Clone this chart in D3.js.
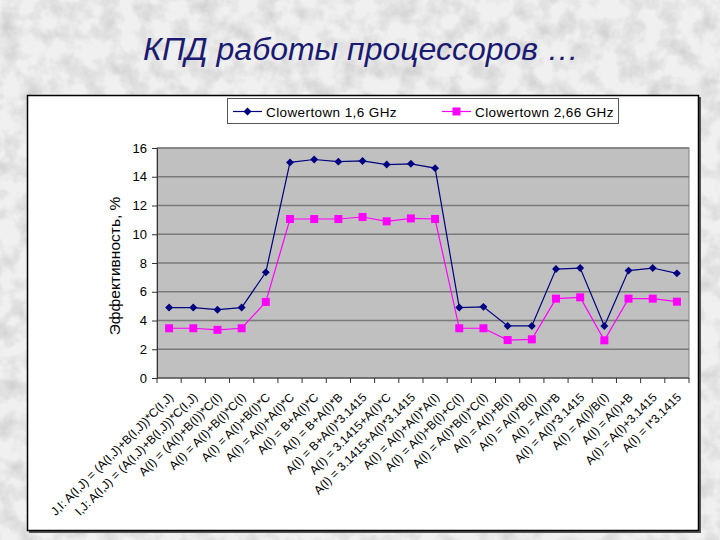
<!DOCTYPE html>
<html>
<head>
<meta charset="utf-8">
<script src="https://cdn.jsdelivr.net/npm/d3@7"></script>
<style>
  html, body { margin: 0; padding: 0; background: #e4e4e4; }
  svg { display: block; }
</style>
</head>
<body>
<svg id="chart" width="720" height="540"></svg>
<script>
const titleText = "КПД работы процессоров …";
const yTitle = "Эффективность, %";
const categories = [
  "J,I: A(I,J) = (A(I,J)+B(I,J))*C(I,J)",
  "I,J: A(I,J) = (A(I,J)+B(I,J))*C(I,J)",
  "A(I) = (A(I)+B(I))*C(I)",
  "A(I) = A(I)+B(I)*C(I)",
  "A(I) = A(I)+B(I)*C",
  "A(I) = A(I)+A(I)*C",
  "A(I) = B+A(I)*C",
  "A(I) = B+A(I)*B",
  "A(I) = B+A(I)*3.1415",
  "A(I) = 3.1415+A(I)*C",
  "A(I) = 3.1415+A(I)*3.1415",
  "A(I) = A(I)+A(I)*A(I)",
  "A(I) = A(I)+B(I)+C(I)",
  "A(I) = A(I)*B(I)*C(I)",
  "A(I) = A(I)+B(I)",
  "A(I) = A(I)*B(I)",
  "A(I) = A(I)*B",
  "A(I) = A(I)*3.1415",
  "A(I) = A(I)/B(I)",
  "A(I) = A(I)+B",
  "A(I) = A(I)+3.1415",
  "A(I) = I*3.1415"
];
const seriesNames = ["Clowertown 1,6 GHz", "Clowertown 2,66 GHz"];
const clower16 = [4.9, 4.9, 4.75, 4.9, 7.35, 15.0, 15.2, 15.05, 15.1, 14.85, 14.9, 14.6, 4.9, 4.95, 3.62, 3.62, 7.58, 7.65, 3.62, 7.47, 7.65, 7.28];
const clower266 = [3.46, 3.46, 3.35, 3.46, 5.29, 11.06, 11.06, 11.06, 11.2, 10.9, 11.1, 11.06, 3.46, 3.46, 2.64, 2.69, 5.52, 5.61, 2.62, 5.52, 5.52, 5.31];
const yTicks = [0, 2, 4, 6, 8, 10, 12, 14, 16];

const svg = d3.select("#chart");
const W = 720, H = 540;

// textured background
const defs = svg.append("defs");
const f = defs.append("filter").attr("id", "marble").attr("x", 0).attr("y", 0).attr("width", "100%").attr("height", "100%");
f.append("feTurbulence").attr("type", "fractalNoise").attr("baseFrequency", "0.05").attr("numOctaves", 4).attr("seed", 11).attr("result", "n");
f.append("feColorMatrix").attr("in", "n").attr("type", "matrix")
  .attr("values", "0 0 0 0 0  0 0 0 0 0  0 0 0 0 0  0 0 0 -1.3 0.8");
svg.append("rect").attr("width", W).attr("height", H).attr("fill", "#f0f0f0");
svg.append("rect").attr("width", W).attr("height", H).attr("fill", "#000").attr("filter", "url(#marble)").attr("opacity", 0.2);

// title
svg.append("text")
  .attr("x", 361).attr("y", 60)
  .attr("text-anchor", "middle")
  .attr("font-family", "Liberation Sans, Arial, sans-serif")
  .attr("font-style", "italic")
  .attr("font-size", 32)
  .attr("fill", "#1a1a72")
  .text(titleText);

// chart box with shadow
svg.append("rect").attr("x", 29).attr("y", 97).attr("width", 672).attr("height", 436).attr("fill", "#555");
svg.append("rect").attr("x", 27.5).attr("y", 95.5).attr("width", 671).attr("height", 435)
  .attr("fill", "#fff").attr("stroke", "#000").attr("stroke-width", 1.5);

const m = { left: 157, right: 689, top: 148, bottom: 378 };

const x = d3.scaleBand().domain(categories).range([m.left, m.right]).paddingInner(0).paddingOuter(0);
const y = d3.scaleLinear().domain([0, 16]).range([m.bottom, m.top]);

// plot area
svg.append("rect").attr("x", m.left).attr("y", m.top)
  .attr("width", m.right - m.left).attr("height", m.bottom - m.top)
  .attr("fill", "#c0c0c0").attr("stroke", "#808080").attr("stroke-width", 1);

// gridlines
svg.append("g").selectAll("line").data(yTicks.filter(d => d > 0)).join("line")
  .attr("x1", m.left).attr("x2", m.right)
  .attr("y1", d => y(d)).attr("y2", d => y(d))
  .attr("stroke", "#7a7a7a").attr("stroke-width", 1.3);

// y axis
const yAxis = d3.axisLeft(y).tickValues(yTicks).tickSize(5).tickPadding(5).tickFormat(d3.format("d"));
const gy = svg.append("g").attr("transform", `translate(${m.left},0)`).call(yAxis);
gy.select(".domain").attr("stroke", "#333");
gy.selectAll(".tick line").attr("stroke", "#333");
gy.selectAll("text").attr("font-family", "Liberation Sans, Arial, sans-serif").attr("font-size", 13).attr("fill", "#000");

// x axis
const gx = svg.append("g").attr("transform", `translate(0,${m.bottom})`);
gx.append("line").attr("x1", m.left).attr("x2", m.right).attr("y1", 0).attr("y2", 0).attr("stroke", "#333");
const bounds = categories.map(c => x(c)).concat([m.right]);
gx.selectAll("line.tk").data(bounds).join("line").attr("class", "tk")
  .attr("x1", d => d).attr("x2", d => d).attr("y1", 0).attr("y2", 5).attr("stroke", "#333");
gx.selectAll("text").data(categories).join("text")
  .attr("transform", d => `translate(${x(d) + x.bandwidth() / 2 + 5},${20}) rotate(-45)`)
  .attr("text-anchor", "end")
  .attr("font-family", "Liberation Sans, Arial, sans-serif")
  .attr("font-size", 12)
  .attr("fill", "#000")
  .text(d => d);

// y title
svg.append("text")
  .attr("transform", `translate(120,266) rotate(-90)`)
  .attr("text-anchor", "middle")
  .attr("font-family", "Liberation Sans, Arial, sans-serif")
  .attr("font-size", 15.5)
  .attr("fill", "#000")
  .text(yTitle);

const cx = d => x(d) + x.bandwidth() / 2;
const line = d3.line().x((d, i) => cx(categories[i])).y(d => y(d));

// series 1
svg.append("path").datum(clower16).attr("d", line).attr("fill", "none").attr("stroke", "#000080").attr("stroke-width", 1.2);
svg.append("g").selectAll("path").data(clower16).join("path")
  .attr("d", d3.symbol(d3.symbolDiamond2, 40)())
  .attr("transform", (d, i) => `translate(${cx(categories[i])},${y(d)})`)
  .attr("fill", "#000080");
// series 2
svg.append("path").datum(clower266).attr("d", line).attr("fill", "none").attr("stroke", "#ff00ff").attr("stroke-width", 1.2);
svg.append("g").selectAll("rect").data(clower266).join("rect")
  .attr("x", (d, i) => cx(categories[i]) - 4).attr("y", d => y(d) - 4)
  .attr("width", 8).attr("height", 8)
  .attr("fill", "#ff00ff");

// legend
const lg = svg.append("g");
lg.append("rect").attr("x", 227.5).attr("y", 98.5).attr("width", 391).attr("height", 25)
  .attr("fill", "#fff").attr("stroke", "#555").attr("stroke-width", 1);
const legendItems = [
  { name: seriesNames[0], x1: 233, color: "#000080", shape: "diamond" },
  { name: seriesNames[1], x1: 442, color: "#ff00ff", shape: "square" }
];
legendItems.forEach(it => {
  const cy = 111.5;
  lg.append("line").attr("x1", it.x1).attr("x2", it.x1 + 29).attr("y1", cy).attr("y2", cy).attr("stroke", it.color).attr("stroke-width", 1.2);
  if (it.shape === "diamond") {
    lg.append("path").attr("d", d3.symbol(d3.symbolDiamond2, 40)()).attr("transform", `translate(${it.x1 + 14.5},${cy})`).attr("fill", it.color);
  } else {
    lg.append("rect").attr("x", it.x1 + 10.5).attr("y", cy - 4).attr("width", 8).attr("height", 8).attr("fill", it.color);
  }
  lg.append("text").attr("x", it.x1 + 33).attr("y", cy + 5)
    .attr("font-family", "Liberation Sans, Arial, sans-serif").attr("font-size", 13.5)
    .attr("letter-spacing", 0.4)
    .attr("fill", "#000").text(it.name);
});
</script>
</body>
</html>
